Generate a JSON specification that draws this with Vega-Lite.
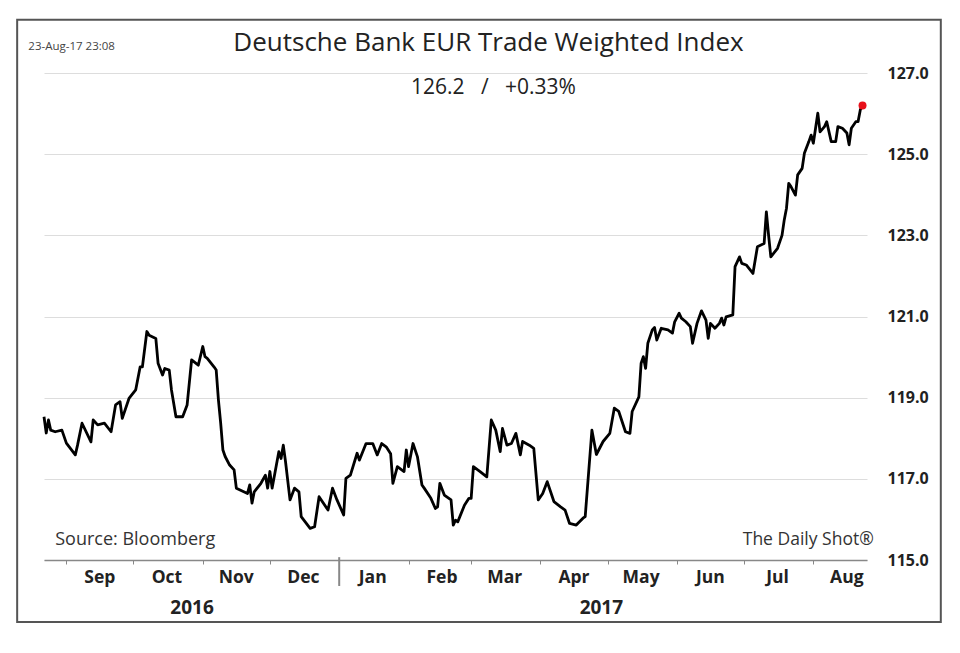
{
  "$schema": "https://vega.github.io/schema/vega-lite/v6.json",
  "description": "Deutsche Bank EUR Trade Weighted Index, Aug 2016 - Aug 2017.",
  "width": 823,
  "height": 487,
  "autosize": "none",
  "padding": {"left": 44, "top": 73, "right": 93, "bottom": 93},
  "config": {"view": {"stroke": null}, "font": "Open Sans"},
  "title": {
    "text": "Deutsche Bank EUR Trade Weighted Index",
    "anchor": "middle",
    "frame": "group",
    "dx": 33,
    "offset": -58,
    "baseline": "alphabetic",
    "font": "Open Sans",
    "fontSize": 26,
    "fontWeight": "normal",
    "color": "#222222"
  },
  "datasets": {
    "eur": [
      {"date": "2016-08-22", "v": 118.53}, {"date": "2016-08-23", "v": 118.13}, {"date": "2016-08-24", "v": 118.45},
      {"date": "2016-08-25", "v": 118.20}, {"date": "2016-08-27", "v": 118.16}, {"date": "2016-08-30", "v": 118.20},
      {"date": "2016-09-01", "v": 117.88}, {"date": "2016-09-05", "v": 117.59}, {"date": "2016-09-06", "v": 117.83},
      {"date": "2016-09-08", "v": 118.37}, {"date": "2016-09-12", "v": 117.91}, {"date": "2016-09-13", "v": 118.45},
      {"date": "2016-09-15", "v": 118.33}, {"date": "2016-09-18", "v": 118.37}, {"date": "2016-09-21", "v": 118.16},
      {"date": "2016-09-23", "v": 118.82}, {"date": "2016-09-25", "v": 118.90}, {"date": "2016-09-26", "v": 118.49},
      {"date": "2016-09-29", "v": 118.98}, {"date": "2016-10-02", "v": 119.19}, {"date": "2016-10-04", "v": 119.76},
      {"date": "2016-10-05", "v": 119.76}, {"date": "2016-10-07", "v": 120.63}, {"date": "2016-10-08", "v": 120.54},
      {"date": "2016-10-11", "v": 120.46}, {"date": "2016-10-12", "v": 119.85}, {"date": "2016-10-14", "v": 119.56},
      {"date": "2016-10-15", "v": 119.72}, {"date": "2016-10-17", "v": 119.68}, {"date": "2016-10-18", "v": 119.19},
      {"date": "2016-10-20", "v": 118.53}, {"date": "2016-10-23", "v": 118.53}, {"date": "2016-10-25", "v": 118.82},
      {"date": "2016-10-27", "v": 119.93}, {"date": "2016-10-30", "v": 119.80}, {"date": "2016-11-01", "v": 120.26},
      {"date": "2016-11-02", "v": 120.01}, {"date": "2016-11-03", "v": 119.97}, {"date": "2016-11-06", "v": 119.76},
      {"date": "2016-11-07", "v": 119.68}, {"date": "2016-11-08", "v": 118.94}, {"date": "2016-11-09", "v": 118.37},
      {"date": "2016-11-10", "v": 117.71}, {"date": "2016-11-11", "v": 117.55}, {"date": "2016-11-13", "v": 117.34},
      {"date": "2016-11-15", "v": 117.22}, {"date": "2016-11-16", "v": 116.77}, {"date": "2016-11-21", "v": 116.64},
      {"date": "2016-11-22", "v": 116.85}, {"date": "2016-11-23", "v": 116.40}, {"date": "2016-11-24", "v": 116.68},
      {"date": "2016-11-27", "v": 116.89}, {"date": "2016-11-29", "v": 117.09}, {"date": "2016-11-30", "v": 116.77},
      {"date": "2016-12-01", "v": 117.18}, {"date": "2016-12-02", "v": 116.77}, {"date": "2016-12-05", "v": 117.67},
      {"date": "2016-12-06", "v": 117.50}, {"date": "2016-12-07", "v": 117.83}, {"date": "2016-12-08", "v": 117.42},
      {"date": "2016-12-10", "v": 116.48}, {"date": "2016-12-12", "v": 116.77}, {"date": "2016-12-14", "v": 116.68},
      {"date": "2016-12-15", "v": 116.07}, {"date": "2016-12-19", "v": 115.78}, {"date": "2016-12-21", "v": 115.82},
      {"date": "2016-12-23", "v": 116.56}, {"date": "2016-12-27", "v": 116.23}, {"date": "2016-12-29", "v": 116.77},
      {"date": "2016-12-31", "v": 116.48}, {"date": "2017-01-03", "v": 116.11}, {"date": "2017-01-04", "v": 117.01},
      {"date": "2017-01-06", "v": 117.09}, {"date": "2017-01-09", "v": 117.63}, {"date": "2017-01-10", "v": 117.46},
      {"date": "2017-01-13", "v": 117.87}, {"date": "2017-01-16", "v": 117.87}, {"date": "2017-01-18", "v": 117.59},
      {"date": "2017-01-20", "v": 117.87}, {"date": "2017-01-22", "v": 117.79}, {"date": "2017-01-24", "v": 117.62},
      {"date": "2017-01-25", "v": 116.89}, {"date": "2017-01-27", "v": 117.30}, {"date": "2017-01-30", "v": 117.18},
      {"date": "2017-01-31", "v": 117.71}, {"date": "2017-02-01", "v": 117.30}, {"date": "2017-02-03", "v": 117.87},
      {"date": "2017-02-05", "v": 117.54}, {"date": "2017-02-07", "v": 116.85}, {"date": "2017-02-08", "v": 116.77},
      {"date": "2017-02-11", "v": 116.52}, {"date": "2017-02-13", "v": 116.27}, {"date": "2017-02-14", "v": 116.31},
      {"date": "2017-02-15", "v": 116.89}, {"date": "2017-02-17", "v": 116.60}, {"date": "2017-02-20", "v": 116.48},
      {"date": "2017-02-21", "v": 115.86}, {"date": "2017-02-22", "v": 115.98}, {"date": "2017-02-23", "v": 115.94},
      {"date": "2017-02-26", "v": 116.35}, {"date": "2017-02-28", "v": 116.52}, {"date": "2017-03-01", "v": 116.52},
      {"date": "2017-03-02", "v": 117.30}, {"date": "2017-03-05", "v": 117.18}, {"date": "2017-03-08", "v": 117.05},
      {"date": "2017-03-10", "v": 118.45}, {"date": "2017-03-12", "v": 118.20}, {"date": "2017-03-14", "v": 117.67},
      {"date": "2017-03-15", "v": 118.24}, {"date": "2017-03-17", "v": 117.83}, {"date": "2017-03-19", "v": 117.87},
      {"date": "2017-03-21", "v": 118.12}, {"date": "2017-03-23", "v": 117.59}, {"date": "2017-03-24", "v": 117.92},
      {"date": "2017-03-27", "v": 117.83}, {"date": "2017-03-29", "v": 117.75}, {"date": "2017-03-31", "v": 116.48},
      {"date": "2017-04-02", "v": 116.64}, {"date": "2017-04-04", "v": 116.93}, {"date": "2017-04-07", "v": 116.44},
      {"date": "2017-04-10", "v": 116.31}, {"date": "2017-04-12", "v": 116.23}, {"date": "2017-04-14", "v": 115.90},
      {"date": "2017-04-17", "v": 115.86}, {"date": "2017-04-20", "v": 116.03}, {"date": "2017-04-21", "v": 116.07},
      {"date": "2017-04-24", "v": 118.20}, {"date": "2017-04-26", "v": 117.60}, {"date": "2017-04-29", "v": 117.92},
      {"date": "2017-05-02", "v": 118.12}, {"date": "2017-05-04", "v": 118.74}, {"date": "2017-05-06", "v": 118.66},
      {"date": "2017-05-09", "v": 118.16}, {"date": "2017-05-11", "v": 118.12}, {"date": "2017-05-12", "v": 118.66},
      {"date": "2017-05-15", "v": 119.02}, {"date": "2017-05-16", "v": 119.85}, {"date": "2017-05-17", "v": 120.01},
      {"date": "2017-05-18", "v": 119.72}, {"date": "2017-05-19", "v": 120.34}, {"date": "2017-05-21", "v": 120.67},
      {"date": "2017-05-22", "v": 120.73}, {"date": "2017-05-23", "v": 120.42}, {"date": "2017-05-25", "v": 120.71},
      {"date": "2017-05-28", "v": 120.67}, {"date": "2017-05-30", "v": 120.59}, {"date": "2017-05-31", "v": 120.87},
      {"date": "2017-06-02", "v": 121.08}, {"date": "2017-06-03", "v": 120.96}, {"date": "2017-06-05", "v": 120.87},
      {"date": "2017-06-07", "v": 120.75}, {"date": "2017-06-08", "v": 120.34}, {"date": "2017-06-10", "v": 120.83},
      {"date": "2017-06-12", "v": 121.14}, {"date": "2017-06-14", "v": 120.91}, {"date": "2017-06-15", "v": 120.46},
      {"date": "2017-06-16", "v": 120.83}, {"date": "2017-06-18", "v": 120.71}, {"date": "2017-06-20", "v": 120.83},
      {"date": "2017-06-21", "v": 120.96}, {"date": "2017-06-22", "v": 120.79}, {"date": "2017-06-23", "v": 120.99},
      {"date": "2017-06-26", "v": 121.04}, {"date": "2017-06-27", "v": 122.23}, {"date": "2017-06-29", "v": 122.47},
      {"date": "2017-06-30", "v": 122.31}, {"date": "2017-07-02", "v": 122.27}, {"date": "2017-07-05", "v": 122.06},
      {"date": "2017-07-07", "v": 122.72}, {"date": "2017-07-10", "v": 122.80}, {"date": "2017-07-11", "v": 123.58},
      {"date": "2017-07-12", "v": 123.00}, {"date": "2017-07-13", "v": 122.47}, {"date": "2017-07-16", "v": 122.68},
      {"date": "2017-07-18", "v": 123.00}, {"date": "2017-07-19", "v": 123.38}, {"date": "2017-07-20", "v": 123.67},
      {"date": "2017-07-21", "v": 124.28}, {"date": "2017-07-22", "v": 124.20}, {"date": "2017-07-24", "v": 123.99},
      {"date": "2017-07-25", "v": 124.49}, {"date": "2017-07-27", "v": 124.65}, {"date": "2017-07-28", "v": 125.02},
      {"date": "2017-07-30", "v": 125.31}, {"date": "2017-07-31", "v": 125.47}, {"date": "2017-08-01", "v": 125.27},
      {"date": "2017-08-02", "v": 125.64}, {"date": "2017-08-03", "v": 126.01}, {"date": "2017-08-04", "v": 125.55},
      {"date": "2017-08-06", "v": 125.68}, {"date": "2017-08-07", "v": 125.80}, {"date": "2017-08-09", "v": 125.31},
      {"date": "2017-08-11", "v": 125.31}, {"date": "2017-08-12", "v": 125.68}, {"date": "2017-08-14", "v": 125.64},
      {"date": "2017-08-16", "v": 125.52}, {"date": "2017-08-17", "v": 125.23}, {"date": "2017-08-18", "v": 125.64},
      {"date": "2017-08-20", "v": 125.80}, {"date": "2017-08-21", "v": 125.80}, {"date": "2017-08-22", "v": 126.09},
      {"date": "2017-08-23", "v": 126.20}
    ]
  },
  "resolve": {"axis": {"x": "independent", "y": "independent"}},
  "layer": [
    {
      "data": {"values": [{}]},
      "mark": {"type": "rect", "fill": "transparent", "stroke": "#555555", "strokeWidth": 2},
      "encoding": {
        "x": {"datum": {"year": 2016, "month": 8, "date": 10}, "type": "temporal", "axis": null},
        "x2": {"datum": {"year": 2017, "month": 9, "date": 27}},
        "y": {"datum": 128.31, "type": "quantitative", "axis": null},
        "y2": {"datum": 113.47}
      }
    },
    {
      "data": {"name": "eur"},
      "mark": {"type": "line", "color": "#000000", "strokeWidth": 2.8, "strokeJoin": "round"},
      "encoding": {
        "x": {
          "field": "date", "type": "temporal",
          "scale": {"domain": [{"year": 2016, "month": 8, "date": 22}, {"year": 2017, "month": 8, "date": 25}], "nice": false},
          "axis": {
            "title": null,
            "orient": "bottom",
            "values": [
              {"year": 2016, "month": 9, "date": 1}, {"year": 2016, "month": 10, "date": 1},
              {"year": 2016, "month": 11, "date": 1}, {"year": 2016, "month": 12, "date": 1},
              {"year": 2017, "month": 1, "date": 1}, {"year": 2017, "month": 2, "date": 1},
              {"year": 2017, "month": 3, "date": 1}, {"year": 2017, "month": 4, "date": 1},
              {"year": 2017, "month": 5, "date": 1}, {"year": 2017, "month": 6, "date": 1},
              {"year": 2017, "month": 7, "date": 1}, {"year": 2017, "month": 8, "date": 1}
            ],
            "format": "%b",
            "labelOffset": 33,
            "labelFlush": false,
            "labelOverlap": false,
            "grid": false,
            "domainColor": "#888888",
            "domainWidth": 1.5,
            "tickColor": "#888888",
            "tickSize": 4,
            "labelPadding": 4,
            "labelFont": "Open Sans",
            "labelFontSize": 17.5,
            "labelFontWeight": "bold",
            "labelColor": "#222222"
          }
        },
        "y": {
          "field": "v", "type": "quantitative",
          "scale": {"domain": [115, 127], "zero": false, "nice": false},
          "axis": {
            "title": null,
            "orient": "right",
            "values": [115, 117, 119, 121, 123, 125, 127],
            "format": ".1f",
            "grid": true,
            "gridColor": "#dddddd",
            "domain": false,
            "ticks": false,
            "labelPadding": 20,
            "labelFont": "Open Sans",
            "labelFontSize": 16,
            "labelFontWeight": "bold",
            "labelColor": "#222222"
          }
        }
      }
    },
    {
      "data": {"name": "eur"},
      "transform": [{"filter": {"field": "v", "gte": 126.2}}],
      "mark": {"type": "point", "filled": true, "color": "#e8101a", "size": 64, "opacity": 1},
      "encoding": {
        "x": {
          "field": "date", "type": "temporal",
          "axis": {
            "title": null,
            "orient": "bottom",
            "values": [{"year": 2016, "month": 10, "date": 27}, {"year": 2017, "month": 4, "date": 28}],
            "format": "%Y",
            "domain": false,
            "ticks": false,
            "tickSize": 0,
            "grid": false,
            "labelFlush": false,
            "labelPadding": 38,
            "labelFont": "Open Sans",
            "labelFontSize": 19,
            "labelFontWeight": "bold",
            "labelColor": "#222222"
          }
        },
        "y": {"field": "v", "type": "quantitative", "axis": null}
      }
    },
    {
      "data": {"values": [{}]},
      "mark": {"type": "rule", "color": "#888888", "strokeWidth": 2},
      "encoding": {
        "x": {"datum": {"year": 2017, "month": 1, "date": 1}, "type": "temporal", "axis": null},
        "y": {"datum": 115.07, "type": "quantitative", "axis": null},
        "y2": {"datum": 114.36}
      }
    },
    {
      "data": {"values": [{}]},
      "mark": {"type": "text", "text": "126.2\u00a0\u00a0\u00a0/\u00a0\u00a0\u00a0+0.33%", "align": "center", "baseline": "middle", "font": "Open Sans", "fontSize": 21, "color": "#222222"},
      "encoding": {
        "x": {"datum": {"year": 2017, "month": 3, "date": 11}, "type": "temporal", "axis": null},
        "y": {"datum": 126.62, "type": "quantitative", "axis": null}
      }
    },
    {
      "data": {"values": [{}]},
      "mark": {"type": "text", "text": "23-Aug-17 23:08", "align": "left", "baseline": "middle", "font": "Open Sans", "fontSize": 11.5, "color": "#444444"},
      "encoding": {
        "x": {"datum": {"year": 2016, "month": 8, "date": 15}, "type": "temporal", "axis": null},
        "y": {"datum": 127.64, "type": "quantitative", "axis": null}
      }
    },
    {
      "data": {"values": [{}]},
      "mark": {"type": "text", "text": "Source: Bloomberg", "align": "left", "baseline": "middle", "font": "Open Sans", "fontSize": 18, "color": "#333333"},
      "encoding": {
        "x": {"datum": {"year": 2016, "month": 8, "date": 27}, "type": "temporal", "axis": null},
        "y": {"datum": 115.49, "type": "quantitative", "axis": null}
      }
    },
    {
      "data": {"values": [{}]},
      "mark": {"type": "text", "text": "The Daily Shot®", "align": "right", "baseline": "middle", "font": "Open Sans", "fontSize": 17.5, "color": "#333333"},
      "encoding": {
        "x": {"datum": {"year": 2017, "month": 8, "date": 28}, "type": "temporal", "axis": null},
        "y": {"datum": 115.49, "type": "quantitative", "axis": null}
      }
    }
  ]
}
